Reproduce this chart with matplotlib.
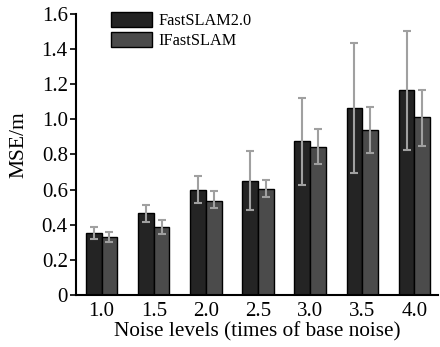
import matplotlib
matplotlib.use("Agg")
import matplotlib.pyplot as plt
import numpy as np

plt.rcParams['font.family'] = ['Liberation Serif', 'DejaVu Serif']

categories = ["1.0", "1.5", "2.0", "2.5", "3.0", "3.5", "4.0"]
fast_mean = [0.355, 0.465, 0.598, 0.651, 0.877, 1.065, 1.167]
fast_low = [0.317, 0.418, 0.522, 0.484, 0.626, 0.693, 0.826]
fast_high = [0.385, 0.511, 0.678, 0.822, 1.120, 1.437, 1.503]
ifast_mean = [0.328, 0.387, 0.537, 0.604, 0.845, 0.940, 1.012]
ifast_low = [0.300, 0.349, 0.494, 0.556, 0.744, 0.807, 0.850]
ifast_high = [0.359, 0.427, 0.590, 0.655, 0.945, 1.069, 1.167]
yticks = [0, 0.2, 0.4, 0.6, 0.8, 1.0, 1.2, 1.4, 1.6]
ytick_labels = ["0", "0.2", "0.4", "0.6", "0.8", "1.0", "1.2", "1.4", "1.6"]

fig = plt.figure(figsize=(4.4, 3.47), dpi=100)
ax = fig.add_axes([0.173, 0.15, 0.822, 0.81])

x = np.arange(len(categories))
w = 0.3
fm = np.array(fast_mean); im = np.array(ifast_mean)
ferr = [fm - np.array(fast_low), np.array(fast_high) - fm]
ierr = [im - np.array(ifast_low), np.array(ifast_high) - im]
ekw = dict(ecolor='#a0a0a0', elinewidth=1.5, capsize=3, capthick=1.5)
ax.bar(x - w/2, fm, w, color='#242424', edgecolor='black', linewidth=1.0,
       yerr=ferr, error_kw=ekw, label='FastSLAM2.0', zorder=2)
ax.bar(x + w/2, im, w, color='#4b4b4b', edgecolor='black', linewidth=1.0,
       yerr=ierr, error_kw=ekw, label='IFastSLAM', zorder=2)

ax.set_xlim(-0.49, 6.45)
ax.set_ylim(0, 1.6)
ax.set_xticks(x)
ax.set_xticklabels(categories)
ax.set_yticks(yticks)
ax.set_yticklabels(ytick_labels)
ax.tick_params(axis='x', length=0, labelsize=15, pad=5)
ax.tick_params(axis='y', direction='out', length=4, width=1.2, labelsize=15, pad=2)
for s in ['top', 'right']:
    ax.spines[s].set_visible(False)
for s in ['left', 'bottom']:
    ax.spines[s].set_linewidth(1.5)

ax.set_xlabel('Noise levels (times of base noise)', fontsize=15.3, labelpad=1)
ax.set_ylabel('MSE/m', fontsize=15.5)
ax.yaxis.set_label_coords(-0.132, 0.534)

ax.legend(loc='upper left', bbox_to_anchor=(0.07, 1.04), frameon=False,
          fontsize=11.7, handlelength=2.5, handleheight=1.0, labelspacing=0.2,
          handletextpad=0.4, borderaxespad=0.2)

fig.savefig('out.png', dpi=100)
